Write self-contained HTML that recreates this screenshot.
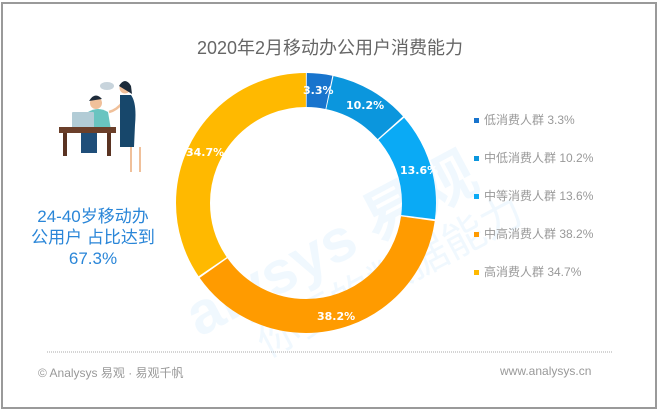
<!DOCTYPE html>
<html><head><meta charset="utf-8"><style>
body{margin:0;width:660px;height:411px;background:#fff;overflow:hidden;font-family:"Liberation Sans","Noto Sans CJK SC",sans-serif}
.frame{position:absolute;left:1px;top:2px;width:652px;height:403px;border:2px solid #9a9a9a}
.t{position:absolute;white-space:nowrap}
</style></head><body>
<div class="frame"></div>
<div class="t" style="left:0;width:660px;top:34px;text-align:center;font-size:18px;color:#666;">2020年2月移动办公用户消费能力</div>
<svg width="660" height="411" style="position:absolute;left:0;top:0">
<g font-family="Liberation Sans, Noto Sans CJK SC, sans-serif" opacity="0.07" fill="#3fa9f5" font-size="60" font-weight="bold" transform="rotate(-28 330 200)">
<text x="150" y="260">alysys 易观</text>
</g>
<g opacity="0.07" fill="#3fa9f5" font-size="42" font-family="Noto Sans CJK SC, sans-serif" transform="rotate(-28 330 200)">
<text x="200" y="310">你要的数据能力</text>
</g>
<g transform="rotate(-90 306 203)" fill="none" stroke-width="34">
<circle cx="306" cy="203" r="113" stroke="#1874cd" stroke-dasharray="22.4 800" stroke-dashoffset="-0.7"/>
<circle cx="306" cy="203" r="113" stroke="#0b96dd" stroke-dasharray="71 800" stroke-dashoffset="-24.1"/>
<circle cx="306" cy="203" r="113" stroke="#0aaaf5" stroke-dasharray="95 800" stroke-dashoffset="-96.6"/>
<circle cx="306" cy="203" r="113" stroke="#ff9b00" stroke-dasharray="269.7 800" stroke-dashoffset="-193.3"/>
<circle cx="306" cy="203" r="113" stroke="#ffb900" stroke-dasharray="244.9 800" stroke-dashoffset="-464.7"/>
</g>
<g fill="#fff" font-size="11" font-weight="bold" font-family="DejaVu Sans, sans-serif">
<text x="303" y="94">3.3%</text>
<text x="346" y="109">10.2%</text>
<text x="400" y="174">13.6%</text>
<text x="317" y="320">38.2%</text>
<text x="186" y="156">34.7%</text>
</g>
<!-- illustration -->
<g>
<ellipse cx="107" cy="86" rx="7" ry="4" fill="#c8d4dc"/>
<circle cx="96" cy="103" r="6" fill="#f0c09a"/>
<path d="M89 101 q6 -10 13 -2 z" fill="#1d2b3a"/>
<path d="M88 112 q10 -6 20 0 l3 18 l-22 0 z" fill="#69c4c0"/>
<rect x="72" y="112" width="22" height="17" fill="#b2ccd6" rx="1"/>
<rect x="59" y="127" width="57" height="6" fill="#6b3f2a"/>
<rect x="63" y="133" width="4" height="23" fill="#5a3322"/>
<rect x="107" y="133" width="4" height="23" fill="#5a3322"/>
<rect x="81" y="133" width="16" height="20" fill="#1f4e79"/>
<circle cx="125" cy="88" r="5.5" fill="#f0c09a"/>
<path d="M119 86 q6 -10 12 0 l1 8 z" fill="#1d2b3a"/>
<path d="M109 112 q8 -2 14 -10" stroke="#f0c09a" stroke-width="2.5" fill="none"/>
<path d="M120 95 l11 0 q6 8 4 30 l-1 22 l-14 0 z" fill="#17476b"/>
<rect x="130" y="147" width="2" height="25" fill="#f0c09a"/>
<rect x="139" y="147" width="2" height="25" fill="#f0c09a"/>
</g>
<line x1="47" y1="352" x2="613" y2="352" stroke="#aaa" stroke-dasharray="1 1"/>
<g>
<rect x="474" y="118" width="5" height="5" fill="#1874cd"/>
<rect x="474" y="156" width="5" height="5" fill="#0b96dd"/>
<rect x="474" y="194" width="5" height="5" fill="#0aaaf5"/>
<rect x="474" y="232" width="5" height="5" fill="#ff9b00"/>
<rect x="474" y="270" width="5" height="5" fill="#ffb900"/>
</g>
</svg>
<div class="t" style="left:484px;top:112px;font-size:12px;color:#999;line-height:16px">低消费人群 3.3%</div>
<div class="t" style="left:484px;top:150px;font-size:12px;color:#999;line-height:16px">中低消费人群 10.2%</div>
<div class="t" style="left:484px;top:188px;font-size:12px;color:#999;line-height:16px">中等消费人群 13.6%</div>
<div class="t" style="left:484px;top:226px;font-size:12px;color:#999;line-height:16px">中高消费人群 38.2%</div>
<div class="t" style="left:484px;top:264px;font-size:12px;color:#999;line-height:16px">高消费人群 34.7%</div>
<div class="t" style="left:18px;width:150px;top:206px;text-align:center;font-size:17px;line-height:21px;color:#2a86d8">24-40岁移动办<br>公用户 占比达到<br>67.3%</div>
<div class="t" style="left:38px;top:364px;font-size:12px;color:#999">© Analysys 易观 · 易观千帆</div>
<div class="t" style="left:500px;top:364px;font-size:12px;color:#999">www.analysys.cn</div>
</body></html>
